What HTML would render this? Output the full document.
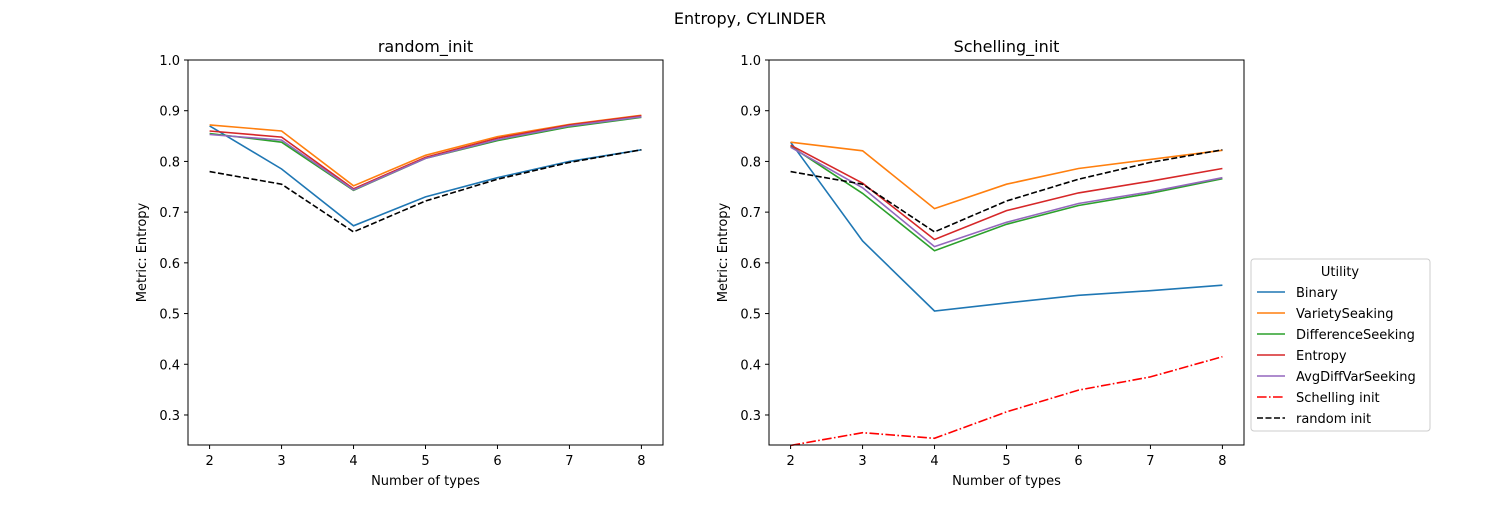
<!DOCTYPE html>
<html><head><meta charset="utf-8">
<style>
body{margin:0;background:#fff;font-family:"Liberation Sans","DejaVu Sans",sans-serif;}
svg text{font-family:"DejaVu Sans","Liberation Sans",sans-serif;fill:#000;}
</style></head>
<body>
<svg id="chart" width="1500" height="500" xmlns="http://www.w3.org/2000/svg">
<rect width="1500" height="500" fill="#fff"/>
<text x="750" y="24" font-size="16" text-anchor="middle">Entropy, CYLINDER</text>
</svg>
<script>
const xCategories = [2,3,4,5,6,7,8];
const yTicks = [0.3,0.4,0.5,0.6,0.7,0.8,0.9,1.0];
const seriesNames = ["Binary","VarietySeaking","DifferenceSeeking","Entropy","AvgDiffVarSeeking","Schelling init","random init"];
const seriesColors = ["#1f77b4","#ff7f0e","#2ca02c","#d62728","#9467bd","#ff0000","#000000"];
const randomBinary = [0.870,0.785,0.673,0.730,0.768,0.800,0.823];
const randomVariety = [0.872,0.860,0.752,0.812,0.849,0.873,0.891];
const randomDiff = [0.855,0.838,0.743,0.806,0.841,0.868,0.887];
const randomEntropy = [0.860,0.848,0.746,0.808,0.846,0.872,0.890];
const randomAvgDiff = [0.853,0.842,0.744,0.806,0.843,0.870,0.888];
const randomInit = [0.780,0.755,0.661,0.722,0.765,0.798,0.823];
const schBinary = [0.838,0.643,0.505,0.521,0.536,0.545,0.556];
const schVariety = [0.838,0.821,0.707,0.755,0.786,0.804,0.822];
const schDiff = [0.830,0.737,0.624,0.676,0.713,0.737,0.766];
const schEntropy = [0.832,0.757,0.646,0.703,0.738,0.761,0.786];
const schAvgDiff = [0.828,0.748,0.632,0.680,0.717,0.740,0.768];
const schInit = [0.240,0.265,0.254,0.306,0.349,0.375,0.415];

const NS="http://www.w3.org/2000/svg";
const svg=document.getElementById('chart');
function mk(tag,attrs,parent){const e=document.createElementNS(NS,tag);for(const k in attrs)e.setAttribute(k,attrs[k]);(parent||svg).appendChild(e);return e;}
const Y0=445,Y1=60,YMIN=0.2408,YMAX=1.0,XMIN=1.7,XMAX=8.3;
function panel(left,title,seriesList,key){
  const W=475;
  const sx=v=>left+(v-XMIN)/(XMAX-XMIN)*W;
  const sy=v=>Y0-(v-YMIN)/(YMAX-YMIN)*(Y0-Y1);
  const g=mk('g',{});
  
  
  const t=mk('text',{x:left+W/2,y:52,'font-size':16,'text-anchor':'middle'},g);t.textContent=title;
  
  
  yTicks.forEach(v=>{const y=sy(v);mk('line',{x1:left-4,x2:left,y1:y,y2:y,stroke:'#000'},g);
    const tx=mk('text',{x:left-8,y:y+5,'font-size':13,'text-anchor':'end'},g);tx.textContent=v.toFixed(1);
    
    });
  xCategories.forEach(v=>{const x=sx(v);mk('line',{x1:x,x2:x,y1:Y0,y2:Y0+4,stroke:'#000'},g);
    const tx=mk('text',{x:x,y:Y0+20,'font-size':13,'text-anchor':'middle'},g);tx.textContent=v;
    
    });
  const xl=mk('text',{x:left+W/2,y:485,'font-size':13,'text-anchor':'middle'},g);xl.textContent='Number of types';
  
  
  const yl=mk('text',{x:0,y:0,'font-size':13,'text-anchor':'middle',transform:`translate(${left-42},${(Y0+Y1)/2}) rotate(-90)`},g);yl.textContent='Metric: Entropy';
  
  
  seriesList.forEach(([idx,vals])=>{
    const d=vals.map((v,i)=>(i?'L':'M')+sx(xCategories[i]).toFixed(1)+','+sy(v).toFixed(1)).join(' ');
    const a={d:d,fill:'none',stroke:seriesColors[idx],'stroke-width':1.6};
    if(idx===6)a['stroke-dasharray']='6,2.5';
    if(idx===5)a['stroke-dasharray']='9.6,2.4,1.6,2.4';
    const p=mk('path',a,g);
    
    
  });
  const fr=mk('rect',{x:left,y:Y1,width:W,height:Y0-Y1,fill:'none',stroke:'#000','stroke-width':1},g);
  
  
}
panel(188,'random_init',[[0,randomBinary],[1,randomVariety],[2,randomDiff],[3,randomEntropy],[4,randomAvgDiff],[6,randomInit]],'random-init');
panel(769,'Schelling_init',[[0,schBinary],[1,schVariety],[2,schDiff],[3,schEntropy],[4,schAvgDiff],[5,schInit],[6,randomInit]],'schelling-init');

const lg=mk('g',{});


mk('rect',{x:1251,y:259,width:179,height:172,rx:3,fill:'#fff',stroke:'#ccc'},lg);
const lt=mk('text',{x:1340,y:276,'font-size':13,'text-anchor':'middle'},lg);lt.textContent='Utility';
seriesNames.forEach((n,i)=>{
  const y=292+i*21;
  const a={x1:1257,x2:1285,y1:y,y2:y,stroke:seriesColors[i],'stroke-width':1.6};
  if(i===6)a['stroke-dasharray']='6,2.5';
  if(i===5)a['stroke-dasharray']='9.6,2.4,1.6,2.4';
  mk('line',a,lg);
  const t=mk('text',{x:1296,y:y+5,'font-size':13},lg);t.textContent=n;
  
  
});
</script>
</body></html>
